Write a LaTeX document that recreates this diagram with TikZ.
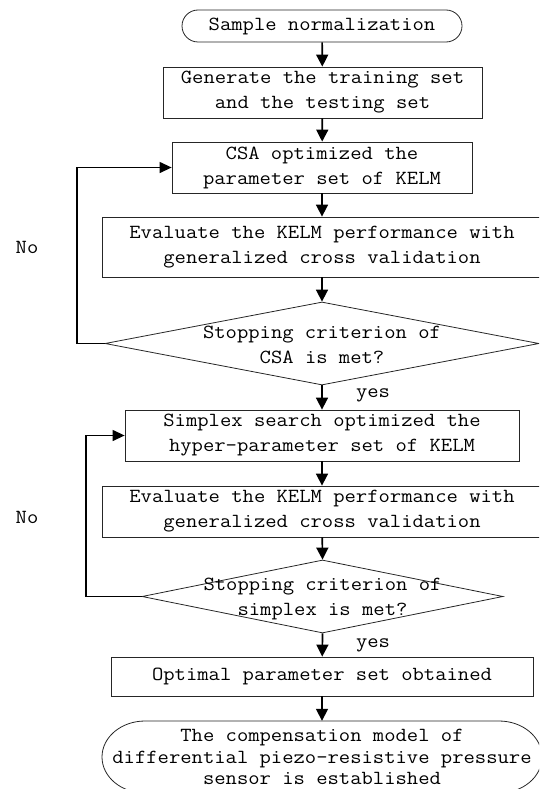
\documentclass[tikz,border=0pt]{standalone}
\usepackage{fontspec}
\setmonofont[FakeStretch=1.1]{Latin Modern Mono}
\usetikzlibrary{arrows.meta,shapes.geometric}
\begin{document}
\begin{tikzpicture}[x=1pt,y=-1pt,
  txt/.style={font=\ttfamily\fontsize{20}{25}\selectfont, align=center, inner sep=0pt},
  boxnode/.style={txt, draw=black!85, line width=0.8pt, rectangle},
  dia/.style={draw=black!85, line width=0.8pt, shape=diamond, inner sep=0pt},
  arr/.style={line width=1.7pt, -{Triangle[width=12pt,length=12pt]}},
  loop/.style={line width=1.3pt, -{Triangle[width=11pt,length=12pt]}},
]
\clip (0,0) rectangle (539,789);
% start terminator
\node[boxnode, rounded corners=16pt, minimum width=280pt, minimum height=32pt] (s) at (322,26) {Sample normalization};
\node[boxnode, minimum width=319pt, minimum height=51pt] (b2) at (322.5,92.5) {Generate the training set\\and the testing set};
\node[boxnode, minimum width=300pt, minimum height=51pt] (b3) at (322,167.5) {CSA optimized the\\parameter set of KELM};
\node[boxnode, minimum width=440pt, minimum height=60pt] (b4) at (322,247) {Evaluate the KELM performance with\\generalized cross validation};
\node[dia, minimum width=434pt, minimum height=83pt] (d1) at (322,343.5) {};
\node[txt] (d1t) at (322,345) {Stopping criterion of\\CSA is met?};
\node[boxnode, minimum width=394pt, minimum height=51pt] (b5) at (322,435.5) {Simplex search optimized the\\hyper-parameter set of KELM};
\node[boxnode, minimum width=440pt, minimum height=51pt] (b6) at (322,511.5) {Evaluate the KELM performance with\\generalized cross validation};
\node[dia, minimum width=361pt, minimum height=73pt] (d2) at (322.5,596.5) {};
\node[txt] (d2t) at (322.5,599) {Stopping criterion of\\simplex is met?};
\node[boxnode, minimum width=422pt, minimum height=39pt] (b7) at (322,676.5) {Optimal parameter set obtained};
% end terminator
\node[txt, minimum width=440pt, minimum height=72pt, font=\ttfamily\fontsize{20}{21.5}\selectfont] (t2) at (322,757) {The compensation model of\\differential piezo-resistive pressure\\sensor is established};
\draw[draw=black!85, line width=0.8pt] (145,721) -- (499,721) arc[start angle=90, end angle=-90, x radius=43pt, y radius=36pt] -- (145,793) arc[start angle=270, end angle=90, x radius=43pt, y radius=36pt] -- cycle;
% labels
\node[txt] (no1) at (27,247) {No};
\node[txt] (no2) at (27,517) {No};
\node[txt] (y1) at (373,395) {yes};
\node[txt] (y2) at (373,645) {yes};
% arrows
\draw[arr] (s) -- (b2);
\draw[arr] (b2) -- (b3);
\draw[arr] (b3) -- (b4);
\draw[arr] (b4) -- (d1.north);
\draw[arr] (d1.south) -- (b5);
\draw[arr] (b5) -- (b6);
\draw[arr] (b6) -- (d2.north);
\draw[arr] (d2.south) -- (b7);
\draw[arr] (b7) -- (t2.north);
\coordinate (l1a) at (77,343.5);
\coordinate (l1b) at (77,167.5);
\draw[loop] (d1.west) -- (l1a) -- (l1b) -- (b3.west);
\coordinate (l2a) at (86,596.5);
\coordinate (l2b) at (86,435.5);
\draw[loop] (d2.west) -- (l2a) -- (l2b) -- (b5.west);
\end{tikzpicture}
\end{document}
